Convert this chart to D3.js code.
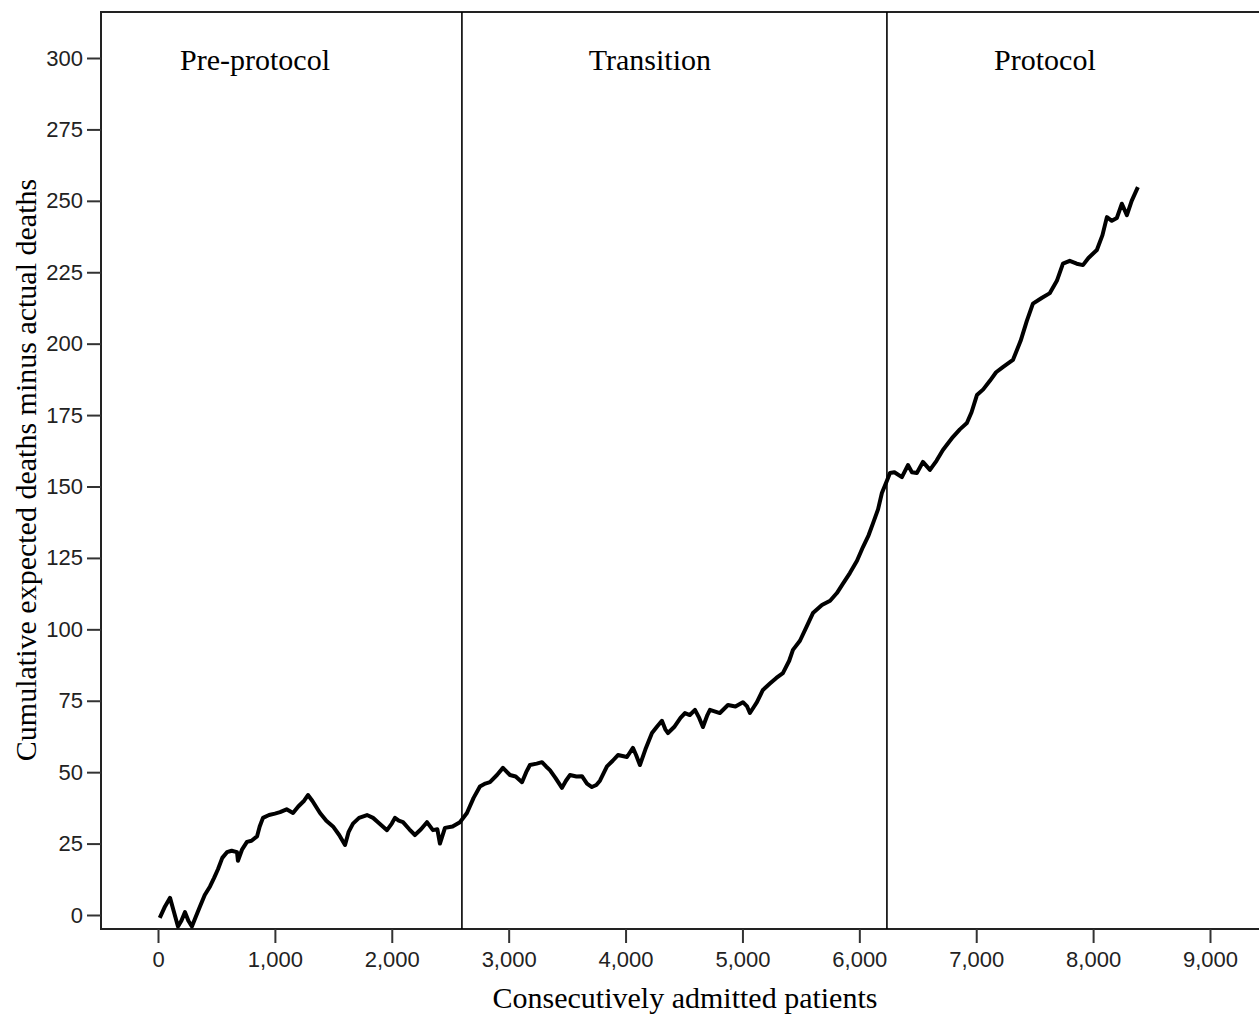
<!DOCTYPE html>
<html>
<head>
<meta charset="utf-8">
<script src="https://cdn.jsdelivr.net/npm/d3@7"></script>
<style>
  body { margin: 0; background: #fff; }
  .tick text { font-family: "Liberation Sans", Arial, sans-serif; font-size: 22px; fill: #222; }
  .ttl { font-family: "Liberation Serif", "Times New Roman", serif; font-size: 30px; fill: #000; }
</style>
</head>
<body>
<div id="chart"></div>
<script>
// patients admitted (x) and cumulative expected minus actual deaths (y)
var patients = [15, 60, 103, 130, 171, 200, 231, 260, 290, 320, 359, 400, 445, 480, 513, 550, 590, 630, 676, 684,
  720, 761, 800, 847, 870, 898, 950, 1000, 1044, 1100, 1155, 1200, 1250, 1283, 1320, 1386, 1440, 1497, 1550, 1600,
  1630, 1668, 1720, 1788, 1840, 1882, 1959, 2000, 2027, 2060, 2096, 2150, 2198, 2250, 2301, 2352, 2390, 2412, 2455, 2520,
  2583, 2643, 2700, 2754, 2800, 2840, 2900, 2951, 3011, 3060, 3114, 3150, 3182, 3240, 3285, 3320, 3353, 3400, 3456, 3490,
  3524, 3580, 3627, 3670, 3712, 3750, 3781, 3841, 3890, 3935, 4012, 4063, 4090, 4123, 4170, 4226, 4270, 4311, 4340, 4363,
  4420, 4470, 4508, 4550, 4594, 4630, 4662, 4700, 4722, 4807, 4876, 4940, 5004, 5040, 5064, 5100, 5124, 5175, 5235, 5290,
  5346, 5400, 5432, 5492, 5550, 5603, 5680, 5750, 5808, 5860, 5919, 5980, 6031, 6080, 6116, 6160, 6193, 6236, 6262, 6300,
  6364, 6416, 6450, 6492, 6544, 6604, 6660, 6715, 6800, 6860, 6920, 6960, 7006, 7060, 7117, 7170, 7228, 7314, 7380, 7433,
  7485, 7560, 7630, 7690, 7742, 7800, 7860, 7913, 7960, 8032, 8080, 8118, 8160, 8203, 8246, 8289, 8330, 8383];
var excessDeaths = [-1, 3, 6, 2, -4, -2, 1, -2, -4, -1, 3, 7, 10, 13, 16, 20, 22, 22.5, 22, 19,
  23, 25.6, 26, 27.5, 31, 34, 35, 35.5, 36, 37, 35.7, 38, 40, 42, 40, 35.7, 33, 31, 28, 24.5,
  29, 32, 34, 35, 34, 32.5, 29.7, 32, 34, 33, 32.5, 30, 28, 30, 32.5, 29.7, 30, 25, 30.5, 31,
  32.5, 35.7, 41, 45, 46, 46.5, 49, 51.5, 49, 48.5, 46.5, 50, 52.5, 53, 53.5, 52, 50.7, 48, 44.5, 47,
  49, 48.5, 48.6, 46, 44.8, 45.5, 47, 52, 54, 56, 55.3, 58.5, 56, 52.5, 58, 63.7, 66, 68, 65, 63.7,
  66, 69, 70.7, 70, 71.8, 69, 65.8, 70, 71.8, 70.7, 73.5, 73, 74.5, 73, 70.7, 73, 74.5, 78.8, 81, 83,
  84.7, 89, 92.8, 96, 101, 105.7, 108.5, 110, 112.7, 116, 119.7, 124, 128.8, 133, 137, 142, 147.7, 152, 154.7, 155,
  153.3, 157.5, 155, 154.7, 158.6, 155.8, 159, 162.8, 167.3, 170, 172.2, 176, 182, 184, 187, 190, 191.8, 194.3, 201, 208,
  214, 216, 217.7, 222, 228, 229, 228, 227.5, 230, 232.8, 238, 244.3, 243, 244, 249, 245, 250, 254.8];

var xTicks = [0, 1000, 2000, 3000, 4000, 5000, 6000, 7000, 8000, 9000];
var yTicks = [0, 25, 50, 75, 100, 125, 150, 175, 200, 225, 250, 275, 300];
// phase boundaries and phase labels
var phaseBreaks = [2600, 6236];
var phaseNames = ["Pre-protocol", "Transition", "Protocol"];
var phaseLabelX = [830, 4208, 7588];

var W = 1259, H = 1015;
var frameLeft = 101, frameTop = 12, frameBottom = 929;

var svg = d3.select("#chart").append("svg")
  .attr("width", W)
  .attr("height", H);

// 0 sits at px 158, 9000 at px 1210
var x = d3.scaleLinear().domain([0, 9000]).range([158, 1210]);
// 0 sits at px 915, 300 at px 58
var y = d3.scaleLinear().domain([0, 300]).range([915, 58]);

// frame (top, left, bottom) - right side runs off the picture
svg.append("path")
  .attr("d", "M" + (W + 5) + "," + frameTop + "H" + frameLeft + "V" + frameBottom + "H" + (W + 5))
  .attr("fill", "none")
  .attr("stroke", "#222")
  .attr("stroke-width", 2);

var xAxis = svg.append("g")
  .attr("transform", "translate(0," + frameBottom + ")")
  .call(d3.axisBottom(x).tickValues(xTicks).tickFormat(d3.format(",")).tickSize(14).tickPadding(8));
xAxis.select(".domain").remove();
xAxis.selectAll(".tick line").attr("stroke", "#333").attr("stroke-width", 2);

var yAxis = svg.append("g")
  .attr("transform", "translate(" + frameLeft + ",0)")
  .call(d3.axisLeft(y).tickValues(yTicks).tickSize(14).tickPadding(4));
yAxis.select(".domain").remove();
yAxis.selectAll(".tick line").attr("stroke", "#333").attr("stroke-width", 2);

// phase separators
svg.selectAll(".sep")
  .data(phaseBreaks)
  .enter()
  .append("line")
  .attr("x1", d => x(d)).attr("x2", d => x(d))
  .attr("y1", frameTop).attr("y2", frameBottom)
  .attr("stroke", "#000")
  .attr("stroke-width", 1.6);

svg.selectAll(".phase")
  .data(phaseNames)
  .enter()
  .append("text")
  .attr("class", "ttl")
  .attr("x", (d, i) => x(phaseLabelX[i]))
  .attr("y", 70)
  .attr("text-anchor", "middle")
  .text(d => d);

var pts = patients.map((p, i) => [p, excessDeaths[i]]);
var line = d3.line()
  .x(d => x(d[0]))
  .y(d => y(d[1]));

svg.append("path")
  .datum(pts)
  .attr("fill", "none")
  .attr("stroke", "#000")
  .attr("stroke-width", 4)
  .attr("stroke-linejoin", "round")
  .attr("d", line);

svg.append("text")
  .attr("class", "ttl")
  .attr("x", 685)
  .attr("y", 1008)
  .attr("text-anchor", "middle")
  .text("Consecutively admitted patients");

svg.append("text")
  .attr("class", "ttl")
  .attr("transform", "translate(36,470) rotate(-90)")
  .attr("text-anchor", "middle")
  .text("Cumulative expected deaths minus actual deaths");
</script>
</body>
</html>
